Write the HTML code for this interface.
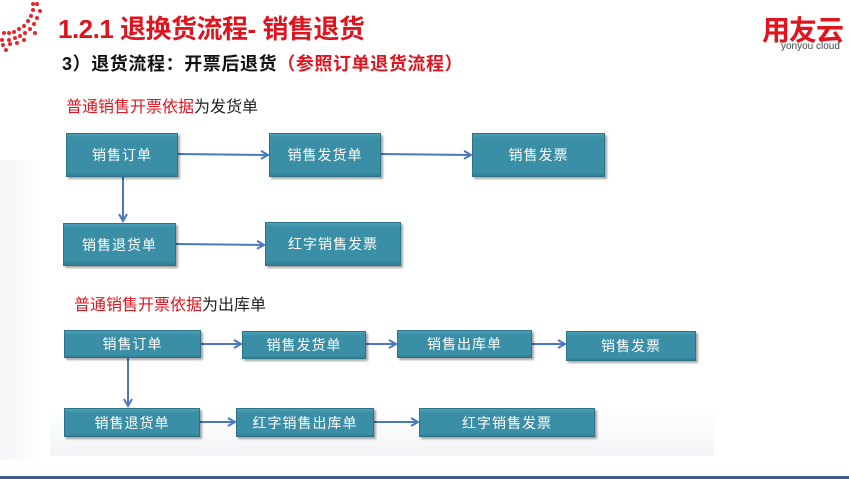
<!DOCTYPE html>
<html><head><meta charset="utf-8"><style>
*{margin:0;padding:0;box-sizing:border-box}
body{width:849px;height:479px;position:relative;background:#fff;overflow:hidden;font-family:"Liberation Sans","Noto Sans CJK SC",sans-serif}
.t{position:absolute;white-space:nowrap}
.b{position:absolute;background:#3a8fa6;border:1px solid #2d7488;box-shadow:2px 2px 2px rgba(0,0,0,.35);color:#fff;font-size:14px;display:flex;align-items:center;justify-content:center;letter-spacing:1px;background-image:linear-gradient(#4aa0b7 0,#3a8fa6 4px,#3a8fa6 90%,#2f7e94 100%)}
svg{position:absolute;left:0;top:0}
</style></head><body>
<div style="position:absolute;left:0;top:160px;width:40px;height:300px;background:linear-gradient(90deg,#f4f5f7,#fff)"></div>
<div style="position:absolute;left:50px;top:318px;width:664px;height:138px;background:linear-gradient(#fff 65%,#f3f4f6)"></div>
<svg width="849" height="479">
<defs><marker id="a" markerWidth="10" markerHeight="10" refX="8" refY="5" orient="auto" markerUnits="userSpaceOnUse"><path d="M1,1 L8,5 L1,9" fill="none" stroke="#4a78c0" stroke-width="2"/></marker></defs>
<g fill="#e8262a">
<circle cx="33" cy="4" r="2"/><circle cx="37" cy="4" r="2"/><circle cx="33" cy="10" r="2"/><circle cx="40" cy="11" r="2"/><circle cx="31" cy="16" r="2"/><circle cx="37" cy="18" r="2"/><circle cx="28" cy="21" r="2"/><circle cx="34" cy="24" r="2"/><circle cx="24" cy="26" r="2"/><circle cx="30" cy="29" r="2"/><circle cx="19" cy="29" r="2"/><circle cx="25" cy="33" r="2"/><circle cx="35" cy="33" r="2"/><circle cx="14" cy="32" r="2"/><circle cx="20" cy="36" r="2"/><circle cx="9" cy="33" r="2"/><circle cx="15" cy="38" r="2"/><circle cx="4" cy="33" r="2"/><circle cx="9" cy="40" r="2"/><circle cx="2" cy="40" r="2"/><circle cx="3" cy="45" r="2"/><circle cx="10" cy="44" r="2"/><circle cx="6" cy="50" r="2"/><circle cx="17" cy="43" r="2"/><circle cx="24" cy="40" r="2"/></g>
<rect x="0" y="476" width="849" height="3" fill="#3d5a80"/>
<g stroke="#4a78c0" stroke-width="2" fill="none" marker-end="url(#a)">
<line x1="178" y1="154" x2="268" y2="155"/>
<line x1="381" y1="154" x2="471" y2="155"/>
<line x1="123" y1="177" x2="123" y2="221"/>
<line x1="176" y1="244" x2="264" y2="245"/>
<line x1="201" y1="344" x2="241" y2="344"/>
<line x1="366" y1="344" x2="396" y2="344"/>
<line x1="532" y1="344" x2="565" y2="344"/>
<line x1="128" y1="358" x2="128" y2="406"/>
<line x1="200" y1="422" x2="235" y2="422"/>
<line x1="374" y1="422" x2="418" y2="422"/>
</g></svg>
<div class="t" style="left:58px;top:9px;font-size:26px;font-weight:bold;color:#e0141e;letter-spacing:-0.5px">1.2.1 退换货流程- 销售退货</div>
<div class="t" style="left:62px;top:50px;font-size:18px;font-weight:bold;color:#111;letter-spacing:0.6px">3）退货流程：开票后退货<span style="color:#e0141e">（参照订单退货流程）</span></div>
<div class="t" style="left:762px;top:9px;font-size:28px;font-weight:bold;color:#e0141e;letter-spacing:-1px">用友云</div>
<div class="t" style="left:781px;top:41px;font-size:10px;color:#444">yonyou cloud</div>
<div class="t" style="left:66px;top:93px;font-size:16px;color:#222"><span style="color:#e0141e">普通销售开票依据</span>为发货单</div>
<div class="t" style="left:74px;top:291px;font-size:16px;color:#222"><span style="color:#e0141e">普通销售开票依据</span>为出库单</div>
<div class="b" style="left:66px;top:133px;width:112px;height:44px">销售订单</div>
<div class="b" style="left:269px;top:133px;width:112px;height:44px">销售发货单</div>
<div class="b" style="left:472px;top:133px;width:133px;height:44px">销售发票</div>
<div class="b" style="left:63px;top:223px;width:113px;height:43px">销售退货单</div>
<div class="b" style="left:265px;top:222px;width:136px;height:44px">红字销售发票</div>
<div class="b" style="left:64px;top:330px;width:137px;height:28px">销售订单</div>
<div class="b" style="left:242px;top:331px;width:124px;height:28px">销售发货单</div>
<div class="b" style="left:397px;top:330px;width:135px;height:28px">销售出库单</div>
<div class="b" style="left:566px;top:331px;width:130px;height:30px">销售发票</div>
<div class="b" style="left:64px;top:408px;width:136px;height:29px">销售退货单</div>
<div class="b" style="left:236px;top:408px;width:138px;height:29px">红字销售出库单</div>
<div class="b" style="left:419px;top:408px;width:176px;height:29px">红字销售发票</div>
</body></html>
